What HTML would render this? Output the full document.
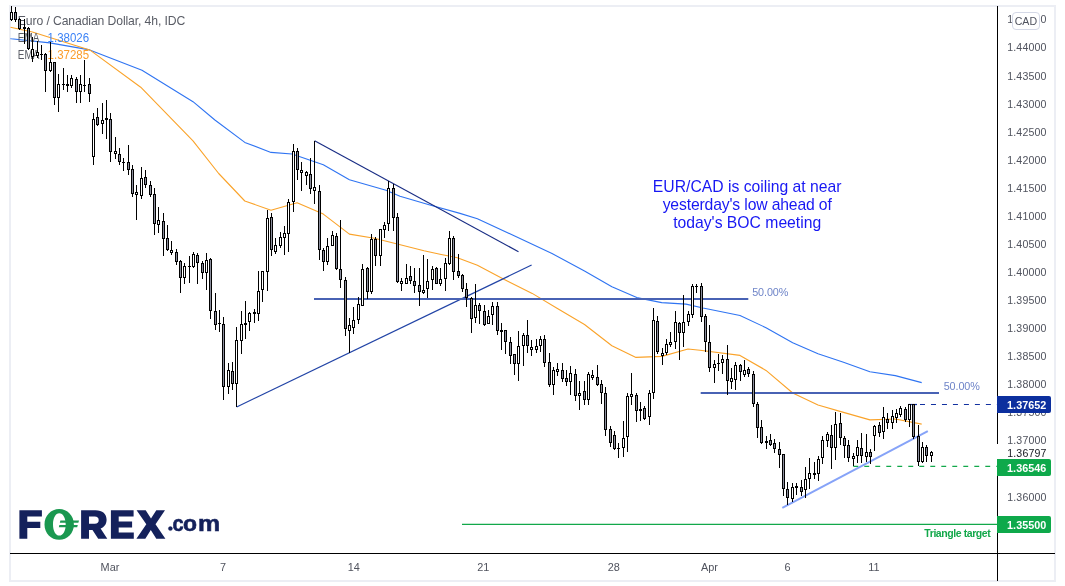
<!DOCTYPE html>
<html><head><meta charset="utf-8"><title>EUR/CAD</title>
<style>
html,body{margin:0;padding:0;background:#fff;}
body{width:1065px;height:586px;overflow:hidden;position:relative;font-family:"Liberation Sans",sans-serif;}
#chart{position:absolute;left:0;top:0;width:1065px;height:586px;}
.t{position:absolute;white-space:nowrap;line-height:1;}
.ax{position:absolute;left:1007.3px;font-size:10.6px;color:#50535e;white-space:nowrap;line-height:1;letter-spacing:0.12px;}
.xl{position:absolute;top:562.1px;font-size:10.9px;color:#50535e;white-space:nowrap;line-height:1;transform:translateX(-50%);}
.pl{position:absolute;left:997px;width:54px;height:17px;border-radius:0 2px 2px 0;color:#fff;font-weight:bold;font-size:10.8px;line-height:18.6px;text-indent:10.1px;white-space:nowrap;letter-spacing:0.02px;}
</style></head><body>
<div id="wrap" style="position:absolute;left:0;top:0;width:1065px;height:586px;will-change:transform;">
<svg id="chart" width="1065" height="586" viewBox="0 0 1065 586">
<rect x="0" y="0" width="1065" height="586" fill="#fff"/>
<!-- frame -->
<rect x="10" y="6" width="1045" height="575" fill="none" stroke="#eceef4" stroke-width="2"/>

<polyline points="10.5,38.6 11.2,38.7 49.8,42.9 89.7,49.9 142.0,70.3 193.0,101.7 214.9,120.0 244.8,142.4 271.0,152.4 292.0,154.0 323.3,164.8 349.4,179.8 386.0,190.2 400.0,196.2 429.0,204.7 460.0,213.4 477.4,218.7 514.7,236.1 552.0,253.5 584.5,271.0 611.9,286.7 636.8,297.6 661.7,302.6 686.0,304.1 703.0,308.0 740.0,315.5 766.0,327.7 792.7,342.8 818.0,353.8 843.5,362.3 869.9,371.8 895.3,375.6 921.7,382.6" fill="none" stroke="#2f74f2" stroke-width="1.1" stroke-linejoin="round"/>
<polyline points="10.5,27.3 32.4,32.0 89.7,49.9 140.7,87.2 193.0,140.8 218.7,173.5 244.8,201.0 271.0,210.2 297.1,202.7 323.3,214.1 349.4,234.1 374.3,238.3 399.3,244.5 424.0,250.8 440.0,254.2 457.4,257.8 477.4,265.3 504.8,279.7 532.2,293.4 557.0,308.3 584.5,324.5 611.9,345.7 636.0,357.4 662.0,356.4 688.0,349.0 700.0,350.2 740.0,355.4 766.0,370.4 792.7,393.0 818.0,405.0 843.5,412.4 869.9,419.9 895.3,419.0 921.7,424.1" fill="none" stroke="#faa32a" stroke-width="1.1" stroke-linejoin="round"/>
<line x1="314.6" y1="140.8" x2="518.5" y2="251.7" stroke="#182c84" stroke-width="1.15"/>
<line x1="236.7" y1="407" x2="531.6" y2="265.1" stroke="#2244a6" stroke-width="1.15"/>
<line x1="314" y1="299" x2="748.3" y2="299" stroke="#4862b4" stroke-width="2"/>
<line x1="700.7" y1="393" x2="939" y2="393" stroke="#4862b4" stroke-width="2"/>
<line x1="782.3" y1="507.9" x2="927.8" y2="431.2" stroke="#86a3f8" stroke-width="2"/>
<line x1="908.5" y1="404.5" x2="997" y2="404.5" stroke="#1230a0" stroke-width="1.2" stroke-dasharray="5 5.98" stroke-dashoffset="-11.5"/>
<line x1="908.5" y1="404.5" x2="917" y2="404.5" stroke="#1230a0" stroke-width="1.2"/>
<line x1="853.3" y1="466.3" x2="997" y2="466.3" stroke="#12a84a" stroke-width="1.2" stroke-dasharray="4.9 6.1"/>
<line x1="462" y1="524.4" x2="997" y2="524.4" stroke="#12a84a" stroke-width="1.1"/>
<g font-family="Liberation Sans, sans-serif" font-size="12.2">
<text x="17.8" y="24.9" fill="#5a5d66" textLength="167.5" lengthAdjust="spacing">Euro / Canadian Dollar, 4h, IDC</text>
<text x="17.8" y="41.5" fill="#5a5d66" textLength="21.5" lengthAdjust="spacingAndGlyphs">EMA</text>
<text x="47.6" y="41.5" fill="#3b82f6" textLength="41.5" lengthAdjust="spacingAndGlyphs">1.38026</text>
<text x="17.8" y="58.6" fill="#5a5d66" textLength="21.5" lengthAdjust="spacingAndGlyphs">EMA</text>
<text x="47.6" y="58.6" fill="#fb9d2b" textLength="41.5" lengthAdjust="spacingAndGlyphs">1.37285</text>
</g>
<g fill="#000" shape-rendering="crispEdges">
<rect x="11.0" y="6" width="1" height="15"/>
<rect x="10.0" y="12" width="3" height="8"/>
<rect x="11.0" y="13" width="1" height="6" fill="#fff"/>
<rect x="15.0" y="7" width="1" height="15"/>
<rect x="14.0" y="12" width="3" height="8"/>
<rect x="15.0" y="13" width="1" height="6" fill="#8a8d9c"/>
<rect x="19.0" y="18" width="1" height="12"/>
<rect x="18.0" y="19" width="3" height="10"/>
<rect x="19.0" y="20" width="1" height="8" fill="#8a8d9c"/>
<rect x="24.0" y="19" width="1" height="25"/>
<rect x="23.0" y="27" width="3" height="2"/>
<rect x="28.0" y="27" width="1" height="23"/>
<rect x="27.0" y="28" width="3" height="21"/>
<rect x="28.0" y="29" width="1" height="19" fill="#8a8d9c"/>
<rect x="32.0" y="37" width="1" height="25"/>
<rect x="31.0" y="49" width="3" height="8"/>
<rect x="32.0" y="50" width="1" height="6" fill="#fff"/>
<rect x="37.0" y="41" width="1" height="17"/>
<rect x="36.0" y="52" width="3" height="4"/>
<rect x="37.0" y="53" width="1" height="2" fill="#fff"/>
<rect x="41.0" y="45" width="1" height="15"/>
<rect x="40.0" y="54" width="3" height="1"/>
<rect x="45.0" y="53" width="1" height="39"/>
<rect x="44.0" y="54" width="3" height="17"/>
<rect x="45.0" y="55" width="1" height="15" fill="#8a8d9c"/>
<rect x="50.0" y="42" width="1" height="30"/>
<rect x="49.0" y="62" width="3" height="9"/>
<rect x="50.0" y="63" width="1" height="7" fill="#fff"/>
<rect x="54.0" y="62" width="1" height="43"/>
<rect x="53.0" y="62" width="3" height="36"/>
<rect x="54.0" y="63" width="1" height="34" fill="#8a8d9c"/>
<rect x="58.0" y="74" width="1" height="38"/>
<rect x="57.0" y="84" width="3" height="14"/>
<rect x="58.0" y="85" width="1" height="12" fill="#fff"/>
<rect x="63.0" y="68" width="1" height="22"/>
<rect x="62.0" y="84" width="3" height="1"/>
<rect x="67.0" y="75" width="1" height="17"/>
<rect x="66.0" y="84" width="3" height="2"/>
<rect x="71.0" y="75" width="1" height="13"/>
<rect x="70.0" y="78" width="3" height="8"/>
<rect x="71.0" y="79" width="1" height="6" fill="#fff"/>
<rect x="76.0" y="77" width="1" height="26"/>
<rect x="75.0" y="79" width="3" height="13"/>
<rect x="76.0" y="80" width="1" height="11" fill="#8a8d9c"/>
<rect x="80.0" y="75" width="1" height="28"/>
<rect x="79.0" y="84" width="3" height="8"/>
<rect x="80.0" y="85" width="1" height="6" fill="#fff"/>
<rect x="84.0" y="60" width="1" height="32"/>
<rect x="83.0" y="85" width="3" height="1"/>
<rect x="89.0" y="78" width="1" height="24"/>
<rect x="88.0" y="84" width="3" height="10"/>
<rect x="89.0" y="85" width="1" height="8" fill="#8a8d9c"/>
<rect x="93.0" y="113" width="1" height="52"/>
<rect x="92.0" y="119" width="3" height="38"/>
<rect x="93.0" y="120" width="1" height="36" fill="#fff"/>
<rect x="97.0" y="108" width="1" height="18"/>
<rect x="96.0" y="117" width="3" height="8"/>
<rect x="97.0" y="118" width="1" height="6" fill="#8a8d9c"/>
<rect x="102.0" y="103" width="1" height="31"/>
<rect x="101.0" y="120" width="3" height="4"/>
<rect x="102.0" y="121" width="1" height="2" fill="#fff"/>
<rect x="106.0" y="100" width="1" height="39"/>
<rect x="105.0" y="118" width="3" height="2"/>
<rect x="110.0" y="113" width="1" height="49"/>
<rect x="109.0" y="119" width="3" height="33"/>
<rect x="110.0" y="120" width="1" height="31" fill="#8a8d9c"/>
<rect x="115.0" y="137" width="1" height="22"/>
<rect x="114.0" y="151" width="3" height="3"/>
<rect x="115.0" y="152" width="1" height="1" fill="#fff"/>
<rect x="119.0" y="148" width="1" height="17"/>
<rect x="118.0" y="154" width="3" height="8"/>
<rect x="119.0" y="155" width="1" height="6" fill="#8a8d9c"/>
<rect x="123.0" y="158" width="1" height="13"/>
<rect x="122.0" y="162" width="3" height="1"/>
<rect x="128.0" y="145" width="1" height="30"/>
<rect x="127.0" y="162" width="3" height="8"/>
<rect x="128.0" y="163" width="1" height="6" fill="#8a8d9c"/>
<rect x="132.0" y="165" width="1" height="32"/>
<rect x="131.0" y="169" width="3" height="25"/>
<rect x="132.0" y="170" width="1" height="23" fill="#8a8d9c"/>
<rect x="136.0" y="185" width="1" height="35"/>
<rect x="135.0" y="192" width="3" height="3"/>
<rect x="136.0" y="193" width="1" height="1" fill="#fff"/>
<rect x="141.0" y="167" width="1" height="32"/>
<rect x="140.0" y="178" width="3" height="18"/>
<rect x="141.0" y="179" width="1" height="16" fill="#fff"/>
<rect x="145.0" y="170" width="1" height="18"/>
<rect x="144.0" y="177" width="3" height="8"/>
<rect x="145.0" y="178" width="1" height="6" fill="#8a8d9c"/>
<rect x="150.0" y="181" width="1" height="16"/>
<rect x="149.0" y="185" width="3" height="10"/>
<rect x="150.0" y="186" width="1" height="8" fill="#8a8d9c"/>
<rect x="154.0" y="188" width="1" height="47"/>
<rect x="153.0" y="194" width="3" height="30"/>
<rect x="154.0" y="195" width="1" height="28" fill="#8a8d9c"/>
<rect x="158.0" y="207" width="1" height="26"/>
<rect x="157.0" y="220" width="3" height="5"/>
<rect x="158.0" y="221" width="1" height="3" fill="#fff"/>
<rect x="163.0" y="213" width="1" height="43"/>
<rect x="162.0" y="221" width="3" height="18"/>
<rect x="163.0" y="222" width="1" height="16" fill="#8a8d9c"/>
<rect x="167.0" y="225" width="1" height="26"/>
<rect x="166.0" y="238" width="3" height="12"/>
<rect x="167.0" y="239" width="1" height="10" fill="#8a8d9c"/>
<rect x="171.0" y="241" width="1" height="14"/>
<rect x="170.0" y="250" width="3" height="3"/>
<rect x="171.0" y="251" width="1" height="1" fill="#fff"/>
<rect x="176.0" y="249" width="1" height="16"/>
<rect x="175.0" y="252" width="3" height="10"/>
<rect x="176.0" y="253" width="1" height="8" fill="#8a8d9c"/>
<rect x="180.0" y="260" width="1" height="33"/>
<rect x="179.0" y="261" width="3" height="17"/>
<rect x="180.0" y="262" width="1" height="15" fill="#8a8d9c"/>
<rect x="184.0" y="263" width="1" height="21"/>
<rect x="183.0" y="266" width="3" height="12"/>
<rect x="184.0" y="267" width="1" height="10" fill="#fff"/>
<rect x="189.0" y="256" width="1" height="27"/>
<rect x="188.0" y="266" width="3" height="1"/>
<rect x="193.0" y="252" width="1" height="16"/>
<rect x="192.0" y="254" width="3" height="13"/>
<rect x="193.0" y="255" width="1" height="11" fill="#fff"/>
<rect x="197.0" y="253" width="1" height="31"/>
<rect x="196.0" y="255" width="3" height="8"/>
<rect x="197.0" y="256" width="1" height="6" fill="#8a8d9c"/>
<rect x="202.0" y="261" width="1" height="18"/>
<rect x="201.0" y="263" width="3" height="10"/>
<rect x="202.0" y="264" width="1" height="8" fill="#8a8d9c"/>
<rect x="206.0" y="253" width="1" height="37"/>
<rect x="205.0" y="260" width="3" height="13"/>
<rect x="206.0" y="261" width="1" height="11" fill="#fff"/>
<rect x="210.0" y="258" width="1" height="61"/>
<rect x="209.0" y="259" width="3" height="52"/>
<rect x="210.0" y="260" width="1" height="50" fill="#8a8d9c"/>
<rect x="215.0" y="293" width="1" height="37"/>
<rect x="214.0" y="311" width="3" height="14"/>
<rect x="215.0" y="312" width="1" height="12" fill="#8a8d9c"/>
<rect x="219.0" y="310" width="1" height="22"/>
<rect x="218.0" y="323" width="3" height="1"/>
<rect x="223.0" y="317" width="1" height="83"/>
<rect x="222.0" y="324" width="3" height="63"/>
<rect x="223.0" y="325" width="1" height="61" fill="#8a8d9c"/>
<rect x="228.0" y="363" width="1" height="31"/>
<rect x="227.0" y="370" width="3" height="17"/>
<rect x="228.0" y="371" width="1" height="15" fill="#fff"/>
<rect x="232.0" y="362" width="1" height="28"/>
<rect x="231.0" y="371" width="3" height="13"/>
<rect x="232.0" y="372" width="1" height="11" fill="#8a8d9c"/>
<rect x="236.0" y="327" width="1" height="80"/>
<rect x="235.0" y="340" width="3" height="44"/>
<rect x="236.0" y="341" width="1" height="42" fill="#fff"/>
<rect x="241.0" y="311" width="1" height="43"/>
<rect x="240.0" y="324" width="3" height="17"/>
<rect x="241.0" y="325" width="1" height="15" fill="#fff"/>
<rect x="245.0" y="301" width="1" height="38"/>
<rect x="244.0" y="323" width="3" height="2"/>
<rect x="249.0" y="312" width="1" height="19"/>
<rect x="248.0" y="313" width="3" height="9"/>
<rect x="249.0" y="314" width="1" height="7" fill="#fff"/>
<rect x="254.0" y="309" width="1" height="14"/>
<rect x="253.0" y="312" width="3" height="2"/>
<rect x="258.0" y="271" width="1" height="50"/>
<rect x="257.0" y="291" width="3" height="23"/>
<rect x="258.0" y="292" width="1" height="21" fill="#fff"/>
<rect x="262.0" y="271" width="1" height="31"/>
<rect x="261.0" y="271" width="3" height="19"/>
<rect x="262.0" y="272" width="1" height="17" fill="#fff"/>
<rect x="267.0" y="210" width="1" height="81"/>
<rect x="266.0" y="218" width="3" height="54"/>
<rect x="267.0" y="219" width="1" height="52" fill="#fff"/>
<rect x="271.0" y="213" width="1" height="43"/>
<rect x="270.0" y="217" width="3" height="33"/>
<rect x="271.0" y="218" width="1" height="31" fill="#8a8d9c"/>
<rect x="275.0" y="238" width="1" height="16"/>
<rect x="274.0" y="245" width="3" height="7"/>
<rect x="275.0" y="246" width="1" height="5" fill="#fff"/>
<rect x="280.0" y="232" width="1" height="16"/>
<rect x="279.0" y="237" width="3" height="9"/>
<rect x="280.0" y="238" width="1" height="7" fill="#fff"/>
<rect x="284.0" y="226" width="1" height="29"/>
<rect x="283.0" y="233" width="3" height="5"/>
<rect x="284.0" y="234" width="1" height="3" fill="#fff"/>
<rect x="288.0" y="199" width="1" height="53"/>
<rect x="287.0" y="202" width="3" height="32"/>
<rect x="288.0" y="203" width="1" height="30" fill="#fff"/>
<rect x="293.0" y="144" width="1" height="68"/>
<rect x="292.0" y="151" width="3" height="51"/>
<rect x="293.0" y="152" width="1" height="49" fill="#fff"/>
<rect x="297.0" y="148" width="1" height="32"/>
<rect x="296.0" y="151" width="3" height="19"/>
<rect x="297.0" y="152" width="1" height="17" fill="#8a8d9c"/>
<rect x="301.0" y="162" width="1" height="29"/>
<rect x="300.0" y="170" width="3" height="3"/>
<rect x="301.0" y="171" width="1" height="1" fill="#fff"/>
<rect x="306.0" y="171" width="1" height="14"/>
<rect x="305.0" y="172" width="3" height="4"/>
<rect x="306.0" y="173" width="1" height="2" fill="#fff"/>
<rect x="310.0" y="158" width="1" height="36"/>
<rect x="309.0" y="174" width="3" height="15"/>
<rect x="310.0" y="175" width="1" height="13" fill="#8a8d9c"/>
<rect x="314.0" y="141" width="1" height="63"/>
<rect x="313.0" y="187" width="3" height="4"/>
<rect x="314.0" y="188" width="1" height="2" fill="#fff"/>
<rect x="319.0" y="185" width="1" height="75"/>
<rect x="318.0" y="191" width="3" height="59"/>
<rect x="319.0" y="192" width="1" height="57" fill="#8a8d9c"/>
<rect x="323.0" y="248" width="1" height="23"/>
<rect x="322.0" y="250" width="3" height="12"/>
<rect x="323.0" y="251" width="1" height="10" fill="#8a8d9c"/>
<rect x="327.0" y="238" width="1" height="27"/>
<rect x="326.0" y="246" width="3" height="16"/>
<rect x="327.0" y="247" width="1" height="14" fill="#fff"/>
<rect x="332.0" y="231" width="1" height="15"/>
<rect x="331.0" y="235" width="3" height="11"/>
<rect x="332.0" y="236" width="1" height="9" fill="#fff"/>
<rect x="336.0" y="233" width="1" height="37"/>
<rect x="335.0" y="236" width="3" height="33"/>
<rect x="336.0" y="237" width="1" height="31" fill="#8a8d9c"/>
<rect x="340.0" y="220" width="1" height="68"/>
<rect x="339.0" y="269" width="3" height="11"/>
<rect x="340.0" y="270" width="1" height="9" fill="#8a8d9c"/>
<rect x="345.0" y="277" width="1" height="59"/>
<rect x="344.0" y="280" width="3" height="49"/>
<rect x="345.0" y="281" width="1" height="47" fill="#8a8d9c"/>
<rect x="349.0" y="318" width="1" height="35"/>
<rect x="348.0" y="325" width="3" height="6"/>
<rect x="349.0" y="326" width="1" height="4" fill="#fff"/>
<rect x="353.0" y="307" width="1" height="27"/>
<rect x="352.0" y="320" width="3" height="8"/>
<rect x="353.0" y="321" width="1" height="6" fill="#fff"/>
<rect x="358.0" y="297" width="1" height="27"/>
<rect x="357.0" y="304" width="3" height="16"/>
<rect x="358.0" y="305" width="1" height="14" fill="#fff"/>
<rect x="362.0" y="264" width="1" height="42"/>
<rect x="361.0" y="269" width="3" height="37"/>
<rect x="362.0" y="270" width="1" height="35" fill="#fff"/>
<rect x="367.0" y="267" width="1" height="32"/>
<rect x="366.0" y="268" width="3" height="24"/>
<rect x="367.0" y="269" width="1" height="22" fill="#8a8d9c"/>
<rect x="371.0" y="234" width="1" height="60"/>
<rect x="370.0" y="239" width="3" height="53"/>
<rect x="371.0" y="240" width="1" height="51" fill="#fff"/>
<rect x="375.0" y="237" width="1" height="29"/>
<rect x="374.0" y="239" width="3" height="17"/>
<rect x="375.0" y="240" width="1" height="15" fill="#8a8d9c"/>
<rect x="380.0" y="229" width="1" height="37"/>
<rect x="379.0" y="229" width="3" height="27"/>
<rect x="380.0" y="230" width="1" height="25" fill="#fff"/>
<rect x="384.0" y="222" width="1" height="16"/>
<rect x="383.0" y="225" width="3" height="5"/>
<rect x="384.0" y="226" width="1" height="3" fill="#fff"/>
<rect x="388.0" y="181" width="1" height="50"/>
<rect x="387.0" y="188" width="3" height="36"/>
<rect x="388.0" y="189" width="1" height="34" fill="#fff"/>
<rect x="393.0" y="184" width="1" height="47"/>
<rect x="392.0" y="188" width="3" height="30"/>
<rect x="393.0" y="189" width="1" height="28" fill="#8a8d9c"/>
<rect x="397.0" y="213" width="1" height="70"/>
<rect x="396.0" y="217" width="3" height="65"/>
<rect x="397.0" y="218" width="1" height="63" fill="#8a8d9c"/>
<rect x="401.0" y="278" width="1" height="13"/>
<rect x="400.0" y="281" width="3" height="3"/>
<rect x="401.0" y="282" width="1" height="1" fill="#fff"/>
<rect x="406.0" y="264" width="1" height="20"/>
<rect x="405.0" y="278" width="3" height="6"/>
<rect x="406.0" y="279" width="1" height="4" fill="#fff"/>
<rect x="410.0" y="266" width="1" height="18"/>
<rect x="409.0" y="276" width="3" height="5"/>
<rect x="410.0" y="277" width="1" height="3" fill="#8a8d9c"/>
<rect x="414.0" y="268" width="1" height="25"/>
<rect x="413.0" y="281" width="3" height="5"/>
<rect x="414.0" y="282" width="1" height="3" fill="#8a8d9c"/>
<rect x="419.0" y="268" width="1" height="38"/>
<rect x="418.0" y="285" width="3" height="7"/>
<rect x="419.0" y="286" width="1" height="5" fill="#8a8d9c"/>
<rect x="423.0" y="255" width="1" height="39"/>
<rect x="422.0" y="290" width="3" height="3"/>
<rect x="423.0" y="291" width="1" height="1" fill="#fff"/>
<rect x="427.0" y="259" width="1" height="39"/>
<rect x="426.0" y="281" width="3" height="8"/>
<rect x="427.0" y="282" width="1" height="6" fill="#fff"/>
<rect x="432.0" y="266" width="1" height="24"/>
<rect x="431.0" y="269" width="3" height="11"/>
<rect x="432.0" y="270" width="1" height="9" fill="#fff"/>
<rect x="436.0" y="267" width="1" height="17"/>
<rect x="435.0" y="268" width="3" height="16"/>
<rect x="436.0" y="269" width="1" height="14" fill="#8a8d9c"/>
<rect x="440.0" y="268" width="1" height="18"/>
<rect x="439.0" y="279" width="3" height="5"/>
<rect x="440.0" y="280" width="1" height="3" fill="#fff"/>
<rect x="445.0" y="258" width="1" height="33"/>
<rect x="444.0" y="263" width="3" height="16"/>
<rect x="445.0" y="264" width="1" height="14" fill="#fff"/>
<rect x="449.0" y="231" width="1" height="34"/>
<rect x="448.0" y="238" width="3" height="26"/>
<rect x="449.0" y="239" width="1" height="24" fill="#fff"/>
<rect x="453.0" y="236" width="1" height="44"/>
<rect x="452.0" y="238" width="3" height="34"/>
<rect x="453.0" y="239" width="1" height="32" fill="#8a8d9c"/>
<rect x="458.0" y="254" width="1" height="24"/>
<rect x="457.0" y="271" width="3" height="5"/>
<rect x="458.0" y="272" width="1" height="3" fill="#8a8d9c"/>
<rect x="462.0" y="274" width="1" height="18"/>
<rect x="461.0" y="275" width="3" height="14"/>
<rect x="462.0" y="276" width="1" height="12" fill="#8a8d9c"/>
<rect x="466.0" y="283" width="1" height="24"/>
<rect x="465.0" y="289" width="3" height="9"/>
<rect x="466.0" y="290" width="1" height="7" fill="#8a8d9c"/>
<rect x="471.0" y="297" width="1" height="36"/>
<rect x="470.0" y="298" width="3" height="21"/>
<rect x="471.0" y="299" width="1" height="19" fill="#8a8d9c"/>
<rect x="475.0" y="284" width="1" height="39"/>
<rect x="474.0" y="305" width="3" height="13"/>
<rect x="475.0" y="306" width="1" height="11" fill="#fff"/>
<rect x="479.0" y="303" width="1" height="21"/>
<rect x="478.0" y="305" width="3" height="6"/>
<rect x="479.0" y="306" width="1" height="4" fill="#8a8d9c"/>
<rect x="484.0" y="305" width="1" height="21"/>
<rect x="483.0" y="311" width="3" height="14"/>
<rect x="484.0" y="312" width="1" height="12" fill="#8a8d9c"/>
<rect x="488.0" y="310" width="1" height="14"/>
<rect x="487.0" y="316" width="3" height="8"/>
<rect x="488.0" y="317" width="1" height="6" fill="#fff"/>
<rect x="492.0" y="302" width="1" height="23"/>
<rect x="491.0" y="306" width="3" height="9"/>
<rect x="492.0" y="307" width="1" height="7" fill="#fff"/>
<rect x="497.0" y="302" width="1" height="33"/>
<rect x="496.0" y="306" width="3" height="25"/>
<rect x="497.0" y="307" width="1" height="23" fill="#8a8d9c"/>
<rect x="501.0" y="323" width="1" height="27"/>
<rect x="500.0" y="330" width="3" height="2"/>
<rect x="505.0" y="330" width="1" height="24"/>
<rect x="504.0" y="330" width="3" height="12"/>
<rect x="505.0" y="331" width="1" height="10" fill="#8a8d9c"/>
<rect x="510.0" y="337" width="1" height="27"/>
<rect x="509.0" y="342" width="3" height="14"/>
<rect x="510.0" y="343" width="1" height="12" fill="#8a8d9c"/>
<rect x="514.0" y="354" width="1" height="21"/>
<rect x="513.0" y="354" width="3" height="10"/>
<rect x="514.0" y="355" width="1" height="8" fill="#8a8d9c"/>
<rect x="518.0" y="331" width="1" height="50"/>
<rect x="517.0" y="346" width="3" height="18"/>
<rect x="518.0" y="347" width="1" height="16" fill="#fff"/>
<rect x="523.0" y="333" width="1" height="33"/>
<rect x="522.0" y="335" width="3" height="11"/>
<rect x="523.0" y="336" width="1" height="9" fill="#fff"/>
<rect x="527.0" y="320" width="1" height="33"/>
<rect x="526.0" y="335" width="3" height="11"/>
<rect x="527.0" y="336" width="1" height="9" fill="#8a8d9c"/>
<rect x="531.0" y="340" width="1" height="16"/>
<rect x="530.0" y="347" width="3" height="3"/>
<rect x="531.0" y="348" width="1" height="1" fill="#fff"/>
<rect x="536.0" y="339" width="1" height="14"/>
<rect x="535.0" y="346" width="3" height="4"/>
<rect x="536.0" y="347" width="1" height="2" fill="#fff"/>
<rect x="540.0" y="336" width="1" height="16"/>
<rect x="539.0" y="339" width="3" height="7"/>
<rect x="540.0" y="340" width="1" height="5" fill="#fff"/>
<rect x="544.0" y="335" width="1" height="32"/>
<rect x="543.0" y="339" width="3" height="24"/>
<rect x="544.0" y="340" width="1" height="22" fill="#8a8d9c"/>
<rect x="549.0" y="353" width="1" height="34"/>
<rect x="548.0" y="362" width="3" height="23"/>
<rect x="549.0" y="363" width="1" height="21" fill="#8a8d9c"/>
<rect x="553.0" y="367" width="1" height="28"/>
<rect x="552.0" y="370" width="3" height="15"/>
<rect x="553.0" y="371" width="1" height="13" fill="#fff"/>
<rect x="557.0" y="363" width="1" height="13"/>
<rect x="556.0" y="369" width="3" height="3"/>
<rect x="557.0" y="370" width="1" height="1" fill="#fff"/>
<rect x="562.0" y="363" width="1" height="19"/>
<rect x="561.0" y="370" width="3" height="9"/>
<rect x="562.0" y="371" width="1" height="7" fill="#8a8d9c"/>
<rect x="566.0" y="370" width="1" height="16"/>
<rect x="565.0" y="378" width="3" height="4"/>
<rect x="566.0" y="379" width="1" height="2" fill="#8a8d9c"/>
<rect x="570.0" y="366" width="1" height="29"/>
<rect x="569.0" y="373" width="3" height="9"/>
<rect x="570.0" y="374" width="1" height="7" fill="#fff"/>
<rect x="575.0" y="369" width="1" height="32"/>
<rect x="574.0" y="374" width="3" height="22"/>
<rect x="575.0" y="375" width="1" height="20" fill="#8a8d9c"/>
<rect x="579.0" y="381" width="1" height="29"/>
<rect x="578.0" y="393" width="3" height="3"/>
<rect x="579.0" y="394" width="1" height="1" fill="#fff"/>
<rect x="584.0" y="381" width="1" height="24"/>
<rect x="583.0" y="391" width="3" height="9"/>
<rect x="584.0" y="392" width="1" height="7" fill="#8a8d9c"/>
<rect x="588.0" y="372" width="1" height="33"/>
<rect x="587.0" y="374" width="3" height="26"/>
<rect x="588.0" y="375" width="1" height="24" fill="#fff"/>
<rect x="592.0" y="370" width="1" height="10"/>
<rect x="591.0" y="375" width="3" height="3"/>
<rect x="592.0" y="376" width="1" height="1" fill="#fff"/>
<rect x="597.0" y="365" width="1" height="21"/>
<rect x="596.0" y="377" width="3" height="8"/>
<rect x="597.0" y="378" width="1" height="6" fill="#8a8d9c"/>
<rect x="601.0" y="380" width="1" height="24"/>
<rect x="600.0" y="384" width="3" height="9"/>
<rect x="601.0" y="385" width="1" height="7" fill="#8a8d9c"/>
<rect x="605.0" y="387" width="1" height="49"/>
<rect x="604.0" y="393" width="3" height="37"/>
<rect x="605.0" y="394" width="1" height="35" fill="#8a8d9c"/>
<rect x="610.0" y="426" width="1" height="21"/>
<rect x="609.0" y="429" width="3" height="14"/>
<rect x="610.0" y="430" width="1" height="12" fill="#8a8d9c"/>
<rect x="614.0" y="431" width="1" height="19"/>
<rect x="613.0" y="435" width="3" height="14"/>
<rect x="614.0" y="436" width="1" height="12" fill="#8a8d9c"/>
<rect x="618.0" y="443" width="1" height="15"/>
<rect x="617.0" y="448" width="3" height="1"/>
<rect x="623.0" y="421" width="1" height="36"/>
<rect x="622.0" y="438" width="3" height="10"/>
<rect x="623.0" y="439" width="1" height="8" fill="#fff"/>
<rect x="627.0" y="393" width="1" height="59"/>
<rect x="626.0" y="396" width="3" height="41"/>
<rect x="627.0" y="397" width="1" height="39" fill="#fff"/>
<rect x="631.0" y="373" width="1" height="32"/>
<rect x="630.0" y="394" width="3" height="3"/>
<rect x="631.0" y="395" width="1" height="1" fill="#fff"/>
<rect x="636.0" y="393" width="1" height="29"/>
<rect x="635.0" y="395" width="3" height="16"/>
<rect x="636.0" y="396" width="1" height="14" fill="#8a8d9c"/>
<rect x="640.0" y="402" width="1" height="19"/>
<rect x="639.0" y="409" width="3" height="2"/>
<rect x="644.0" y="406" width="1" height="14"/>
<rect x="643.0" y="408" width="3" height="11"/>
<rect x="644.0" y="409" width="1" height="9" fill="#8a8d9c"/>
<rect x="649.0" y="390" width="1" height="35"/>
<rect x="648.0" y="393" width="3" height="24"/>
<rect x="649.0" y="394" width="1" height="22" fill="#fff"/>
<rect x="653.0" y="308" width="1" height="91"/>
<rect x="652.0" y="320" width="3" height="73"/>
<rect x="653.0" y="321" width="1" height="71" fill="#fff"/>
<rect x="657.0" y="316" width="1" height="38"/>
<rect x="656.0" y="321" width="3" height="31"/>
<rect x="657.0" y="322" width="1" height="29" fill="#8a8d9c"/>
<rect x="662.0" y="348" width="1" height="17"/>
<rect x="661.0" y="353" width="3" height="3"/>
<rect x="662.0" y="354" width="1" height="1" fill="#fff"/>
<rect x="666.0" y="339" width="1" height="16"/>
<rect x="665.0" y="344" width="3" height="9"/>
<rect x="666.0" y="345" width="1" height="7" fill="#fff"/>
<rect x="670.0" y="332" width="1" height="15"/>
<rect x="669.0" y="342" width="3" height="3"/>
<rect x="670.0" y="343" width="1" height="1" fill="#fff"/>
<rect x="675.0" y="311" width="1" height="38"/>
<rect x="674.0" y="322" width="3" height="20"/>
<rect x="675.0" y="323" width="1" height="18" fill="#fff"/>
<rect x="679.0" y="322" width="1" height="38"/>
<rect x="678.0" y="323" width="3" height="10"/>
<rect x="679.0" y="324" width="1" height="8" fill="#8a8d9c"/>
<rect x="683.0" y="295" width="1" height="52"/>
<rect x="682.0" y="322" width="3" height="11"/>
<rect x="683.0" y="323" width="1" height="9" fill="#fff"/>
<rect x="688.0" y="311" width="1" height="15"/>
<rect x="687.0" y="314" width="3" height="8"/>
<rect x="688.0" y="315" width="1" height="6" fill="#fff"/>
<rect x="692.0" y="284" width="1" height="34"/>
<rect x="691.0" y="286" width="3" height="29"/>
<rect x="692.0" y="287" width="1" height="27" fill="#fff"/>
<rect x="696.0" y="284" width="1" height="9"/>
<rect x="695.0" y="286" width="3" height="1"/>
<rect x="701.0" y="283" width="1" height="39"/>
<rect x="700.0" y="286" width="3" height="31"/>
<rect x="701.0" y="287" width="1" height="29" fill="#8a8d9c"/>
<rect x="705.0" y="314" width="1" height="38"/>
<rect x="704.0" y="316" width="3" height="26"/>
<rect x="705.0" y="317" width="1" height="24" fill="#8a8d9c"/>
<rect x="709.0" y="325" width="1" height="47"/>
<rect x="708.0" y="342" width="3" height="26"/>
<rect x="709.0" y="343" width="1" height="24" fill="#8a8d9c"/>
<rect x="714.0" y="360" width="1" height="23"/>
<rect x="713.0" y="364" width="3" height="4"/>
<rect x="714.0" y="365" width="1" height="2" fill="#fff"/>
<rect x="718.0" y="354" width="1" height="17"/>
<rect x="717.0" y="363" width="3" height="1"/>
<rect x="722.0" y="355" width="1" height="19"/>
<rect x="721.0" y="359" width="3" height="4"/>
<rect x="722.0" y="360" width="1" height="2" fill="#fff"/>
<rect x="727.0" y="345" width="1" height="50"/>
<rect x="726.0" y="359" width="3" height="22"/>
<rect x="727.0" y="360" width="1" height="20" fill="#8a8d9c"/>
<rect x="731.0" y="368" width="1" height="21"/>
<rect x="730.0" y="378" width="3" height="4"/>
<rect x="731.0" y="379" width="1" height="2" fill="#fff"/>
<rect x="735.0" y="362" width="1" height="28"/>
<rect x="734.0" y="365" width="3" height="15"/>
<rect x="735.0" y="366" width="1" height="13" fill="#fff"/>
<rect x="740.0" y="364" width="1" height="17"/>
<rect x="739.0" y="365" width="3" height="7"/>
<rect x="740.0" y="366" width="1" height="5" fill="#8a8d9c"/>
<rect x="744.0" y="360" width="1" height="17"/>
<rect x="743.0" y="370" width="3" height="5"/>
<rect x="744.0" y="371" width="1" height="3" fill="#fff"/>
<rect x="748.0" y="367" width="1" height="10"/>
<rect x="747.0" y="369" width="3" height="5"/>
<rect x="748.0" y="370" width="1" height="3" fill="#8a8d9c"/>
<rect x="753.0" y="371" width="1" height="36"/>
<rect x="752.0" y="374" width="3" height="30"/>
<rect x="753.0" y="375" width="1" height="28" fill="#8a8d9c"/>
<rect x="757.0" y="402" width="1" height="36"/>
<rect x="756.0" y="404" width="3" height="24"/>
<rect x="757.0" y="405" width="1" height="22" fill="#8a8d9c"/>
<rect x="761.0" y="420" width="1" height="24"/>
<rect x="760.0" y="427" width="3" height="16"/>
<rect x="761.0" y="428" width="1" height="14" fill="#8a8d9c"/>
<rect x="766.0" y="436" width="1" height="13"/>
<rect x="765.0" y="441" width="3" height="2"/>
<rect x="770.0" y="434" width="1" height="12"/>
<rect x="769.0" y="440" width="3" height="5"/>
<rect x="770.0" y="441" width="1" height="3" fill="#8a8d9c"/>
<rect x="774.0" y="439" width="1" height="14"/>
<rect x="773.0" y="443" width="3" height="6"/>
<rect x="774.0" y="444" width="1" height="4" fill="#8a8d9c"/>
<rect x="779.0" y="442" width="1" height="26"/>
<rect x="778.0" y="449" width="3" height="6"/>
<rect x="779.0" y="450" width="1" height="4" fill="#8a8d9c"/>
<rect x="783.0" y="454" width="1" height="42"/>
<rect x="782.0" y="454" width="3" height="35"/>
<rect x="783.0" y="455" width="1" height="33" fill="#8a8d9c"/>
<rect x="787.0" y="482" width="1" height="23"/>
<rect x="786.0" y="489" width="3" height="9"/>
<rect x="787.0" y="490" width="1" height="7" fill="#8a8d9c"/>
<rect x="792.0" y="483" width="1" height="19"/>
<rect x="791.0" y="487" width="3" height="12"/>
<rect x="792.0" y="488" width="1" height="10" fill="#fff"/>
<rect x="796.0" y="483" width="1" height="12"/>
<rect x="795.0" y="486" width="3" height="2"/>
<rect x="801.0" y="480" width="1" height="16"/>
<rect x="800.0" y="487" width="3" height="5"/>
<rect x="801.0" y="488" width="1" height="3" fill="#8a8d9c"/>
<rect x="805.0" y="467" width="1" height="31"/>
<rect x="804.0" y="479" width="3" height="11"/>
<rect x="805.0" y="480" width="1" height="9" fill="#fff"/>
<rect x="809.0" y="458" width="1" height="31"/>
<rect x="808.0" y="473" width="3" height="6"/>
<rect x="809.0" y="474" width="1" height="4" fill="#fff"/>
<rect x="814.0" y="462" width="1" height="17"/>
<rect x="813.0" y="473" width="3" height="2"/>
<rect x="818.0" y="456" width="1" height="25"/>
<rect x="817.0" y="459" width="3" height="15"/>
<rect x="818.0" y="460" width="1" height="13" fill="#fff"/>
<rect x="822.0" y="436" width="1" height="28"/>
<rect x="821.0" y="440" width="3" height="18"/>
<rect x="822.0" y="441" width="1" height="16" fill="#fff"/>
<rect x="827.0" y="432" width="1" height="15"/>
<rect x="826.0" y="434" width="3" height="7"/>
<rect x="827.0" y="435" width="1" height="5" fill="#fff"/>
<rect x="831.0" y="425" width="1" height="44"/>
<rect x="830.0" y="435" width="3" height="13"/>
<rect x="831.0" y="436" width="1" height="11" fill="#8a8d9c"/>
<rect x="835.0" y="412" width="1" height="48"/>
<rect x="834.0" y="424" width="3" height="24"/>
<rect x="835.0" y="425" width="1" height="22" fill="#fff"/>
<rect x="840.0" y="413" width="1" height="32"/>
<rect x="839.0" y="423" width="3" height="15"/>
<rect x="840.0" y="424" width="1" height="13" fill="#8a8d9c"/>
<rect x="844.0" y="436" width="1" height="22"/>
<rect x="843.0" y="438" width="3" height="8"/>
<rect x="844.0" y="439" width="1" height="6" fill="#8a8d9c"/>
<rect x="848.0" y="440" width="1" height="22"/>
<rect x="847.0" y="445" width="3" height="13"/>
<rect x="848.0" y="446" width="1" height="11" fill="#8a8d9c"/>
<rect x="853.0" y="453" width="1" height="13"/>
<rect x="852.0" y="456" width="3" height="3"/>
<rect x="853.0" y="457" width="1" height="1" fill="#fff"/>
<rect x="857.0" y="440" width="1" height="23"/>
<rect x="856.0" y="447" width="3" height="9"/>
<rect x="857.0" y="448" width="1" height="7" fill="#fff"/>
<rect x="861.0" y="433" width="1" height="30"/>
<rect x="860.0" y="448" width="3" height="8"/>
<rect x="861.0" y="449" width="1" height="6" fill="#8a8d9c"/>
<rect x="866.0" y="434" width="1" height="28"/>
<rect x="865.0" y="452" width="3" height="5"/>
<rect x="866.0" y="453" width="1" height="3" fill="#fff"/>
<rect x="870.0" y="449" width="1" height="15"/>
<rect x="869.0" y="452" width="3" height="5"/>
<rect x="870.0" y="453" width="1" height="3" fill="#8a8d9c"/>
<rect x="874.0" y="425" width="1" height="26"/>
<rect x="873.0" y="426" width="3" height="10"/>
<rect x="874.0" y="427" width="1" height="8" fill="#fff"/>
<rect x="879.0" y="422" width="1" height="15"/>
<rect x="878.0" y="425" width="3" height="8"/>
<rect x="879.0" y="426" width="1" height="6" fill="#8a8d9c"/>
<rect x="883.0" y="407" width="1" height="32"/>
<rect x="882.0" y="417" width="3" height="15"/>
<rect x="883.0" y="418" width="1" height="13" fill="#fff"/>
<rect x="887.0" y="413" width="1" height="16"/>
<rect x="886.0" y="419" width="3" height="4"/>
<rect x="887.0" y="420" width="1" height="2" fill="#8a8d9c"/>
<rect x="892.0" y="410" width="1" height="19"/>
<rect x="891.0" y="416" width="3" height="7"/>
<rect x="892.0" y="417" width="1" height="5" fill="#fff"/>
<rect x="896.0" y="409" width="1" height="14"/>
<rect x="895.0" y="413" width="3" height="5"/>
<rect x="896.0" y="414" width="1" height="3" fill="#fff"/>
<rect x="900.0" y="406" width="1" height="11"/>
<rect x="899.0" y="408" width="3" height="7"/>
<rect x="900.0" y="409" width="1" height="5" fill="#fff"/>
<rect x="905.0" y="407" width="1" height="15"/>
<rect x="904.0" y="409" width="3" height="11"/>
<rect x="905.0" y="410" width="1" height="9" fill="#8a8d9c"/>
<rect x="909.0" y="404" width="1" height="23"/>
<rect x="908.0" y="404" width="3" height="16"/>
<rect x="909.0" y="405" width="1" height="14" fill="#fff"/>
<rect x="913.0" y="404" width="1" height="35"/>
<rect x="912.0" y="404" width="3" height="33"/>
<rect x="913.0" y="405" width="1" height="31" fill="#8a8d9c"/>
<rect x="918.0" y="425" width="1" height="41"/>
<rect x="917.0" y="436" width="3" height="26"/>
<rect x="918.0" y="437" width="1" height="24" fill="#8a8d9c"/>
<rect x="922.0" y="442" width="1" height="21"/>
<rect x="921.0" y="447" width="3" height="15"/>
<rect x="922.0" y="448" width="1" height="13" fill="#fff"/>
<rect x="926.0" y="445" width="1" height="17"/>
<rect x="925.0" y="447" width="3" height="9"/>
<rect x="926.0" y="448" width="1" height="7" fill="#8a8d9c"/>
<rect x="931.0" y="451" width="1" height="11"/>
<rect x="930.0" y="452" width="3" height="4"/>
<rect x="931.0" y="453" width="1" height="2" fill="#fff"/>
</g>
<rect x="10" y="553" width="1045" height="1" fill="#000"/>
<rect x="997" y="6" width="1" height="575" fill="#000"/>
<rect x="996.5" y="444" width="56" height="15.3" fill="#fff"/>
<g id="logo">
<g fill="#14215b">
<path d="M19.4 510.3H41.9V516.6H27.3V521.7H40.3V527.9H27.3V538.7H19.4Z"/>
<path d="M81.1 510.3H95.5C102.6 510.3 106.6 514 106.6 519.8C106.6 524.3 104.2 527.2 100.6 528.6L107.3 538.7H98.2L92.5 529.9H89V538.7H81.1ZM89 516.6V523.8H94.8C97.4 523.8 98.7 522.4 98.7 520.2C98.7 517.9 97.3 516.6 94.7 516.6Z" fill-rule="evenodd"/>
<path d="M110.9 510.3H133.6V516.6H118.7V521.6H132.1V527.4H118.7V532.4H133.8V538.7H110.9Z"/>
<path d="M136.6 510.3H145.7L151 518.6L156.3 510.3H165L155.5 524.2L165.4 538.7H156.3L150.8 529.9L145.3 538.7H136.4L146.3 524.3Z"/>
</g>
<g fill="#1a9850">
<path d="M59.2 509C67.4 509 73.9 515.8 73.9 524.4C73.9 533 67.4 539.8 59.2 539.8C51 539.8 44.5 533 44.5 524.4C44.5 515.8 51 509 59.2 509ZM59.3 513.3C55.6 513.3 53 518 53 524.4C53 530.8 55.6 535.6 59.3 535.6C63 535.6 65.7 530.8 65.7 524.4C65.7 518 63 513.3 59.3 513.3Z" fill-rule="evenodd"/>
<path d="M60.4 520.5H79L78.4 522.7H59.8Z"/>
<path d="M59.4 525H77.8L77.2 527.3H58.8Z"/>
</g>
<g font-family="Liberation Sans, sans-serif" font-size="21.3" font-weight="bold" fill="#14215b" stroke="#14215b" stroke-width="0.55"><circle cx="170.4" cy="528.6" r="2.0" stroke-width="0.4"/><text transform="translate(172.4 531) scale(0.94 1)">c</text><text transform="translate(183.1 531) scale(1.075 1)">o</text><text transform="translate(197.9 531) scale(1.17 1)">m</text></g>
</g>
</svg>
<div class="t" style="left:597.2px;width:300px;top:177.7px;font-size:15.72px;line-height:18px;color:#1717f3;text-align:center;letter-spacing:0px;">EUR/CAD is coiling at near</div>
<div class="t" style="left:597.2px;width:300px;top:195.7px;font-size:15.72px;line-height:18px;color:#1717f3;text-align:center;letter-spacing:-0.145px;">yesterday's low ahead of</div>
<div class="t" style="left:597.2px;width:300px;top:213.6px;font-size:15.72px;line-height:18px;color:#1717f3;text-align:center;letter-spacing:0px;">today's BOC meeting</div>
<div class="t" style="left:752.2px;top:286.6px;font-size:10.8px;letter-spacing:-0.1px;color:#6e84c8;">50.00%</div>
<div class="t" style="left:943.7px;top:380.9px;font-size:10.8px;letter-spacing:-0.1px;color:#6e84c8;">50.00%</div>
<div class="t" style="left:924.3px;top:527.6px;font-size:10.5px;font-weight:bold;color:#12a84a;letter-spacing:-0.42px;">Triangle target</div>
<div class="ax" style="top:14.3px;">1.44500</div>
<div class="ax" style="top:42.4px;">1.44000</div>
<div class="ax" style="top:70.5px;">1.43500</div>
<div class="ax" style="top:98.5px;">1.43000</div>
<div class="ax" style="top:126.6px;">1.42500</div>
<div class="ax" style="top:154.7px;">1.42000</div>
<div class="ax" style="top:182.8px;">1.41500</div>
<div class="ax" style="top:210.8px;">1.41000</div>
<div class="ax" style="top:238.9px;">1.40500</div>
<div class="ax" style="top:267.0px;">1.40000</div>
<div class="ax" style="top:295.0px;">1.39500</div>
<div class="ax" style="top:323.1px;">1.39000</div>
<div class="ax" style="top:351.2px;">1.38500</div>
<div class="ax" style="top:379.2px;">1.38000</div>
<div class="ax" style="top:407.3px;">1.37500</div>
<div class="ax" style="top:435.4px;">1.37000</div>
<div class="ax" style="top:463.4px;">1.36500</div>
<div class="ax" style="top:491.5px;">1.36000</div>
<div class="ax" style="top:447.7px;color:#15181f;">1.36797</div>
<div class="t" style="left:1012px;top:12px;width:25.8px;height:15.7px;border:1px solid #d4d8e6;border-radius:4px;background:#fff;font-size:10.6px;color:#50535e;line-height:16.5px;text-align:center;">CAD</div>
<div class="pl" style="top:396px;background:#0c2f9e;">1.37652</div>
<div class="pl" style="top:459px;background:#0ea94b;">1.36546</div>
<div class="pl" style="top:516px;background:#0ea94b;">1.35500</div>
<div class="xl" style="left:110px;">Mar</div>
<div class="xl" style="left:223.1px;">7</div>
<div class="xl" style="left:353.7px;">14</div>
<div class="xl" style="left:483.2px;">21</div>
<div class="xl" style="left:613.7px;">28</div>
<div class="xl" style="left:709.5px;">Apr</div>
<div class="xl" style="left:787.6px;">6</div>
<div class="xl" style="left:873.8px;">11</div>
</div></body></html>
